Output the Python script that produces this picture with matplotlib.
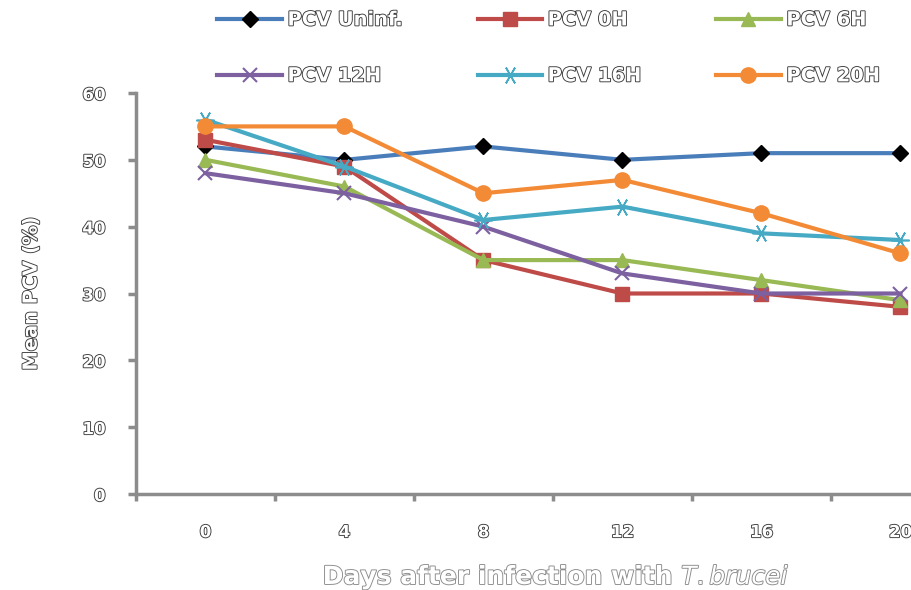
import matplotlib
matplotlib.use("Agg")
import matplotlib.pyplot as plt
import matplotlib.patheffects as pe
import numpy as np

days = ["0", "4", "8", "12", "16", "20"]
series_names = ["PCV Uninf.", "PCV 0H", "PCV 6H", "PCV 12H", "PCV 16H", "PCV 20H"]
pcv_uninf = [52, 50, 52, 50, 51, 51]
pcv_0h = [53, 49, 35, 30, 30, 28]
pcv_6h = [50, 46, 35, 35, 32, 29]
pcv_12h = [48, 45, 40, 33, 30, 30]
pcv_16h = [56, 49, 41, 43, 39, 38]
pcv_20h = [55, 55, 45, 47, 42, 36]
y_ticks = [0, 10, 20, 30, 40, 50, 60]

colors = ["#4A7EBB", "#BE4B48", "#98B954", "#7D60A0", "#46AAC5", "#F38A36"]
styles = [
    dict(marker="D", markersize=8, markerfacecolor="black", markeredgecolor="black"),
    dict(marker="s", markersize=10),
    dict(marker="^", markersize=10),
    dict(marker="x", markersize=10, markeredgewidth=1.5),
    dict(marker=(6, 2, 90), markersize=13, markeredgewidth=1.2),
    dict(marker="o", markersize=11),
]
values = [pcv_uninf, pcv_0h, pcv_6h, pcv_12h, pcv_16h, pcv_20h]

outline = [pe.withStroke(linewidth=1.3, foreground="#3a3a3a")]
outline_gray = [pe.withStroke(linewidth=1.3, foreground="#8a8a8a")]

fig = plt.figure(figsize=(9.12, 5.9), dpi=100)
ax = fig.add_axes([136 / 912, 96 / 590, 834 / 912, 401 / 590])

x = np.arange(len(days))
handles = []
for name, vals, color, style in zip(series_names, values, colors, styles):
    (line,) = ax.plot(x, vals, color=color, linewidth=3, label=name, **style)
    handles.append(line)

ax.set_xlim(-0.5, len(days) - 0.5)
ax.set_ylim(0, 60)
ax.set_yticks(y_ticks)
ax.set_yticklabels([str(t) for t in y_ticks])
ax.set_xticks(np.arange(-0.5, len(days), 1.0))
ax.set_xticklabels([])
ax.set_xticks(x, minor=True)
ax.set_xticklabels(days, minor=True)

for side in ["top", "right"]:
    ax.spines[side].set_visible(False)
for side in ["left", "bottom"]:
    ax.spines[side].set_color("#8c8c8c")
    ax.spines[side].set_linewidth(2.5)

ax.tick_params(axis="y", direction="out", length=6, width=2.5, color="#8c8c8c", pad=16)
ax.tick_params(axis="x", which="major", direction="out", length=5, width=2.5, color="#8c8c8c")
ax.tick_params(axis="x", which="minor", length=0, pad=21)

for label in ax.get_yticklabels() + ax.get_xticklabels(minor=True):
    label.set_fontsize(12)
    label.set_fontweight("bold")
    label.set_color("white")
    label.set_path_effects(outline)

ax.set_ylabel("Mean PCV (%)", fontsize=14, fontweight="bold", color="white",
              path_effects=outline, labelpad=30)
fig.text(556 / 912, 1 - 577 / 590, "Days after infection with $\\it{T. brucei}$",
         ha="center", va="center", fontsize=18, fontweight="bold", color="white",
         path_effects=outline_gray)

# row-major legend order like the reference
order = [0, 3, 1, 4, 2, 5]
leg = fig.legend(handles=[handles[i] for i in order], loc="upper left",
                 bbox_to_anchor=(200 / 912, 1.012),
                 ncol=3, frameon=False, fontsize=14, handlelength=3.3,
                 columnspacing=3.85, labelspacing=1.9, handletextpad=0.3)
for text in leg.get_texts():
    text.set_fontweight("bold")
    text.set_color("white")
    text.set_path_effects(outline)

fig.savefig("out.png", dpi=100)
